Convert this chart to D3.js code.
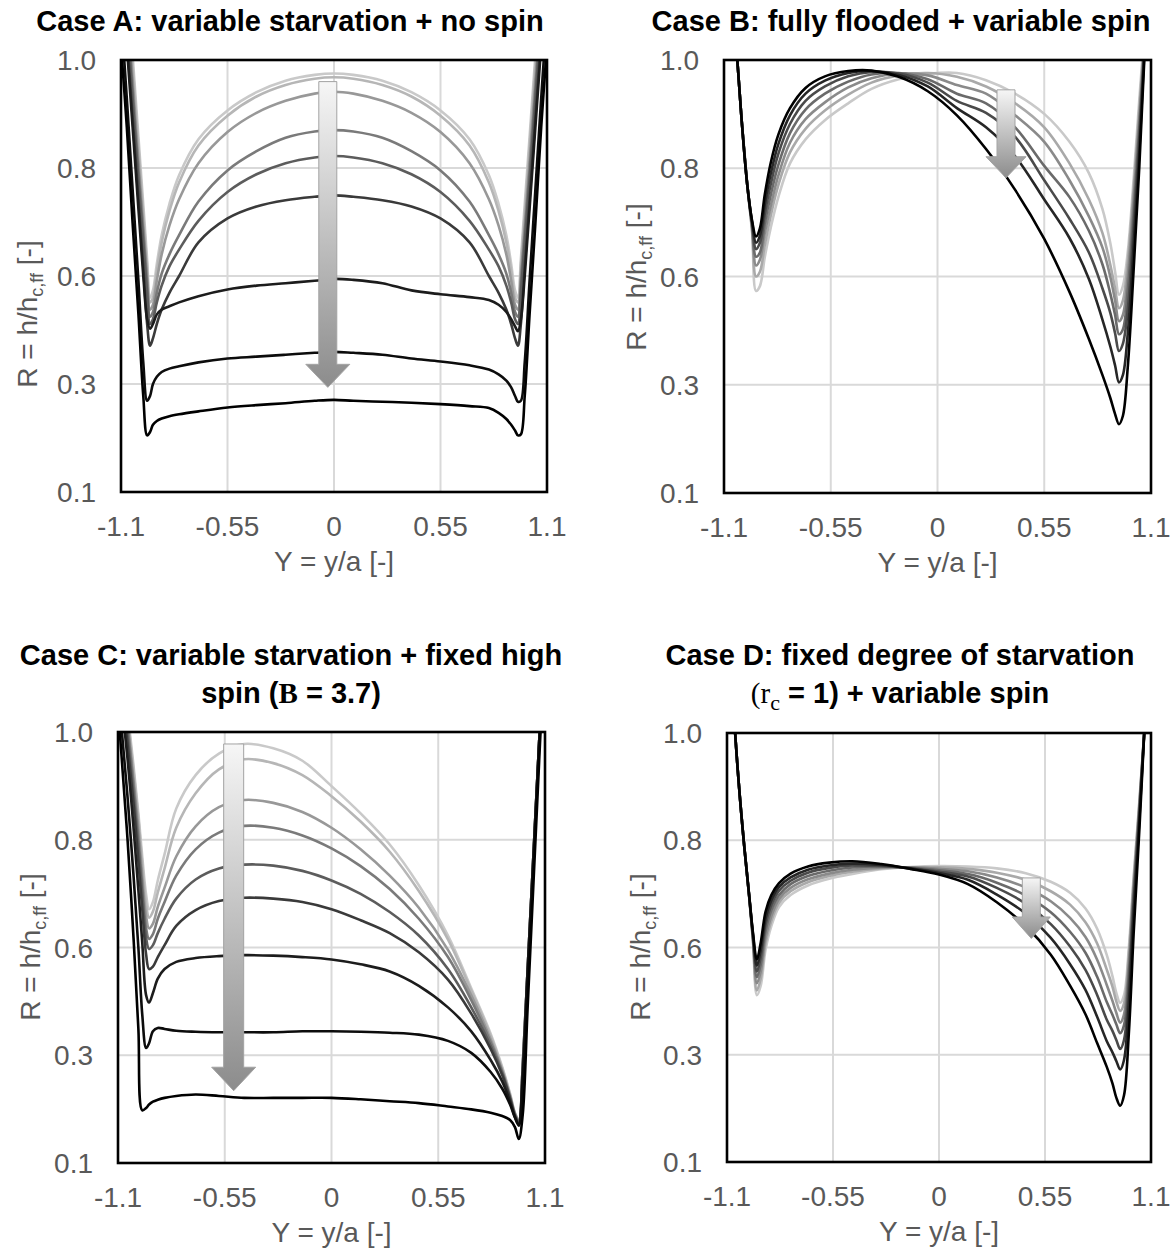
<!DOCTYPE html>
<html><head><meta charset="utf-8">
<script src="https://cdn.jsdelivr.net/npm/d3@7"></script>
<style>body{margin:0;background:#fff} svg{display:block}</style>
</head><body>
<svg id="chart" width="1174" height="1258"></svg>
<script>
// ---------- axis ticks ----------
const xTicks = [-1.1, -0.55, 0, 0.55, 1.1];
const xTickLabels = ["-1.1", "-0.55", "0", "0.55", "1.1"];
const yTicks = [0.1, 0.325, 0.55, 0.775, 1.0];
const yTickLabels = ["0.1", "0.3", "0.6", "0.8", "1.0"];

// ---------- Case A: variable starvation + no spin (lightest -> darkest) ----------
const xA = [-1.1,-1.07,-1.04,-1.01,-0.985,-0.965,-0.95,-0.935,-0.915,-0.89,-0.85,-0.8,-0.7,-0.55,-0.4,-0.25,-0.1,0,0.1,0.25,0.4,0.55,0.7,0.8,0.85,0.89,0.915,0.935,0.95,0.965,0.985,1.01,1.04,1.07,1.1];
const caseA = [
 [1.35,1.18,1.01,0.84,0.70,0.585,0.505,0.52,0.575,0.635,0.70,0.76,0.835,0.895,0.933,0.957,0.969,0.972,0.969,0.957,0.933,0.895,0.835,0.76,0.70,0.635,0.575,0.52,0.505,0.585,0.70,0.84,1.01,1.18,1.35],
 [1.33,1.16,0.99,0.82,0.68,0.57,0.495,0.505,0.56,0.62,0.685,0.745,0.822,0.884,0.924,0.948,0.961,0.964,0.961,0.948,0.924,0.884,0.822,0.745,0.685,0.62,0.56,0.505,0.495,0.57,0.68,0.82,0.99,1.16,1.33],
 [1.30,1.13,0.96,0.79,0.655,0.55,0.48,0.49,0.54,0.595,0.655,0.71,0.785,0.85,0.89,0.915,0.93,0.934,0.93,0.915,0.89,0.85,0.785,0.71,0.655,0.595,0.54,0.49,0.48,0.55,0.655,0.79,0.96,1.13,1.30],
 [1.28,1.11,0.94,0.77,0.64,0.535,0.465,0.475,0.515,0.555,0.595,0.635,0.705,0.77,0.81,0.838,0.851,0.854,0.851,0.838,0.81,0.77,0.705,0.635,0.595,0.555,0.515,0.475,0.465,0.535,0.64,0.77,0.94,1.11,1.28],
 [1.26,1.09,0.92,0.75,0.62,0.515,0.45,0.46,0.495,0.53,0.57,0.605,0.665,0.725,0.762,0.785,0.797,0.80,0.797,0.785,0.762,0.725,0.665,0.605,0.57,0.53,0.495,0.46,0.45,0.515,0.62,0.75,0.92,1.09,1.26],
 [1.22,1.05,0.88,0.71,0.57,0.45,0.405,0.42,0.45,0.48,0.515,0.55,0.62,0.67,0.695,0.708,0.715,0.718,0.715,0.708,0.695,0.67,0.62,0.55,0.515,0.48,0.45,0.42,0.405,0.45,0.57,0.71,0.88,1.05,1.22],
 [1.2,1.03,0.86,0.69,0.55,0.46,0.44,0.45,0.47,0.48,0.487,0.495,0.508,0.522,0.53,0.535,0.54,0.544,0.542,0.535,0.52,0.512,0.506,0.50,0.49,0.475,0.46,0.445,0.435,0.46,0.55,0.69,0.86,1.03,1.2],
 [1.1,0.92,0.73,0.54,0.37,0.29,0.30,0.325,0.34,0.35,0.357,0.362,0.37,0.378,0.382,0.386,0.39,0.392,0.39,0.386,0.378,0.372,0.364,0.355,0.345,0.332,0.318,0.30,0.288,0.29,0.37,0.54,0.73,0.92,1.1],
 [1.03,0.86,0.66,0.47,0.30,0.218,0.225,0.24,0.248,0.253,0.258,0.262,0.268,0.276,0.281,0.285,0.29,0.292,0.29,0.288,0.286,0.283,0.279,0.275,0.265,0.252,0.24,0.228,0.218,0.22,0.30,0.47,0.66,0.86,1.03]
];

// ---------- Case B: fully flooded + variable spin ----------
const xB = [-1.1,-1.07,-1.04,-1.01,-0.98,-0.955,-0.935,-0.915,-0.89,-0.86,-0.82,-0.76,-0.68,-0.58,-0.46,-0.34,-0.2,-0.05,0.1,0.25,0.4,0.55,0.68,0.78,0.85,0.89,0.915,0.935,0.955,0.98,1.01,1.04,1.07,1.1];
const caseB = [
 [1.4,1.22,1.05,0.88,0.74,0.64,0.52,0.53,0.59,0.65,0.715,0.785,0.835,0.875,0.91,0.94,0.96,0.971,0.973,0.958,0.93,0.888,0.83,0.765,0.69,0.62,0.56,0.512,0.53,0.6,0.75,0.92,1.08,1.25],
 [1.4,1.22,1.05,0.88,0.74,0.645,0.55,0.56,0.615,0.675,0.74,0.808,0.857,0.895,0.928,0.953,0.968,0.973,0.965,0.945,0.91,0.86,0.785,0.71,0.64,0.575,0.525,0.484,0.50,0.58,0.73,0.9,1.07,1.25],
 [1.4,1.22,1.05,0.88,0.74,0.65,0.573,0.585,0.64,0.695,0.76,0.828,0.877,0.912,0.943,0.962,0.972,0.968,0.948,0.93,0.885,0.83,0.75,0.675,0.61,0.55,0.50,0.457,0.47,0.55,0.71,0.88,1.06,1.25],
 [1.4,1.22,1.05,0.88,0.74,0.655,0.591,0.60,0.66,0.718,0.782,0.848,0.897,0.93,0.955,0.970,0.973,0.96,0.93,0.91,0.86,0.78,0.715,0.645,0.575,0.515,0.47,0.43,0.44,0.52,0.68,0.86,1.06,1.25],
 [1.4,1.22,1.05,0.88,0.74,0.66,0.607,0.62,0.68,0.74,0.805,0.867,0.915,0.945,0.966,0.975,0.972,0.953,0.915,0.89,0.84,0.75,0.67,0.60,0.525,0.475,0.432,0.395,0.41,0.48,0.65,0.84,1.05,1.25],
 [1.4,1.22,1.05,0.88,0.74,0.663,0.62,0.635,0.70,0.762,0.825,0.885,0.93,0.957,0.973,0.977,0.969,0.945,0.90,0.86,0.80,0.71,0.63,0.545,0.46,0.405,0.365,0.33,0.345,0.43,0.61,0.81,1.05,1.25],
 [1.4,1.22,1.05,0.88,0.74,0.665,0.633,0.65,0.72,0.785,0.845,0.90,0.942,0.966,0.977,0.978,0.965,0.935,0.885,0.815,0.73,0.628,0.518,0.42,0.345,0.298,0.264,0.243,0.26,0.36,0.56,0.78,1.04,1.25]
];

// ---------- Case C: variable starvation + fixed high spin ----------
const xC = [-1.1,-1.08,-1.05,-1.02,-0.995,-0.975,-0.955,-0.94,-0.92,-0.895,-0.86,-0.8,-0.7,-0.58,-0.45,-0.3,-0.15,0,0.15,0.3,0.45,0.6,0.72,0.82,0.88,0.92,0.945,0.965,0.985,1.01,1.04,1.07,1.1];
const caseC = [
 [1.25,1.16,1.04,0.93,0.83,0.74,0.66,0.63,0.645,0.69,0.745,0.84,0.91,0.955,0.975,0.966,0.94,0.887,0.83,0.765,0.68,0.575,0.465,0.37,0.3,0.245,0.205,0.19,0.30,0.50,0.74,0.98,1.2],
 [1.24,1.15,1.03,0.92,0.82,0.725,0.64,0.612,0.625,0.665,0.715,0.80,0.872,0.922,0.943,0.935,0.91,0.866,0.813,0.75,0.668,0.567,0.46,0.365,0.297,0.243,0.204,0.19,0.30,0.50,0.74,0.98,1.2],
 [1.23,1.14,1.02,0.9,0.8,0.7,0.615,0.59,0.6,0.635,0.675,0.74,0.803,0.843,0.858,0.852,0.833,0.80,0.755,0.70,0.633,0.545,0.45,0.358,0.293,0.24,0.203,0.188,0.30,0.50,0.74,0.98,1.2],
 [1.22,1.13,1.01,0.89,0.78,0.68,0.59,0.568,0.578,0.61,0.645,0.70,0.755,0.79,0.804,0.80,0.784,0.757,0.72,0.672,0.61,0.53,0.44,0.352,0.29,0.238,0.202,0.188,0.30,0.50,0.74,0.98,1.2],
 [1.2,1.11,0.99,0.87,0.76,0.66,0.57,0.547,0.555,0.58,0.61,0.652,0.692,0.715,0.723,0.721,0.71,0.69,0.662,0.624,0.575,0.505,0.425,0.345,0.287,0.236,0.20,0.186,0.30,0.50,0.74,0.98,1.2],
 [1.18,1.09,0.97,0.85,0.73,0.63,0.535,0.505,0.51,0.53,0.555,0.595,0.628,0.647,0.654,0.652,0.645,0.63,0.607,0.58,0.54,0.483,0.412,0.338,0.283,0.234,0.198,0.182,0.29,0.50,0.74,0.98,1.2],
 [1.15,1.06,0.94,0.8,0.67,0.56,0.45,0.435,0.455,0.485,0.505,0.52,0.528,0.532,0.534,0.533,0.53,0.525,0.515,0.50,0.47,0.425,0.375,0.315,0.27,0.228,0.196,0.18,0.28,0.49,0.73,0.98,1.2],
 [1.1,1.0,0.86,0.70,0.55,0.41,0.34,0.35,0.375,0.382,0.38,0.376,0.374,0.373,0.373,0.373,0.375,0.375,0.374,0.372,0.368,0.355,0.33,0.29,0.255,0.222,0.195,0.178,0.27,0.48,0.72,0.97,1.2],
 [1.05,0.94,0.77,0.57,0.38,0.21,0.215,0.222,0.228,0.232,0.236,0.24,0.243,0.24,0.236,0.236,0.236,0.236,0.233,0.229,0.225,0.218,0.212,0.205,0.198,0.19,0.175,0.15,0.2,0.42,0.68,0.94,1.2]
];

// ---------- Case D: fixed starvation (rc = 1) + variable spin ----------
const xD = [-1.1,-1.07,-1.04,-1.01,-0.985,-0.965,-0.945,-0.925,-0.9,-0.87,-0.83,-0.77,-0.68,-0.57,-0.45,-0.3,-0.15,0,0.15,0.3,0.45,0.58,0.68,0.76,0.82,0.87,0.9,0.92,0.94,0.96,0.985,1.01,1.04,1.07,1.1];
const caseD = [
 [1.35,1.08,0.9,0.76,0.655,0.56,0.45,0.47,0.545,0.595,0.635,0.66,0.68,0.694,0.704,0.714,0.719,0.721,0.72,0.716,0.706,0.688,0.665,0.632,0.59,0.535,0.49,0.455,0.434,0.45,0.55,0.70,0.86,1.03,1.2],
 [1.35,1.08,0.9,0.76,0.657,0.563,0.46,0.485,0.559,0.606,0.644,0.668,0.687,0.70,0.709,0.716,0.718,0.718,0.715,0.707,0.692,0.668,0.64,0.603,0.559,0.504,0.468,0.437,0.417,0.433,0.536,0.69,0.855,1.03,1.21],
 [1.35,1.08,0.9,0.76,0.657,0.567,0.475,0.50,0.571,0.616,0.652,0.675,0.693,0.705,0.713,0.718,0.718,0.715,0.71,0.697,0.676,0.647,0.612,0.572,0.525,0.472,0.438,0.413,0.392,0.41,0.516,0.677,0.849,1.032,1.22],
 [1.35,1.08,0.9,0.76,0.658,0.57,0.488,0.515,0.585,0.628,0.66,0.683,0.70,0.711,0.718,0.72,0.717,0.712,0.704,0.686,0.659,0.624,0.583,0.539,0.489,0.436,0.409,0.389,0.37,0.387,0.496,0.664,0.842,1.033,1.23],
 [1.35,1.08,0.9,0.76,0.658,0.573,0.50,0.53,0.599,0.639,0.669,0.69,0.707,0.717,0.722,0.721,0.716,0.709,0.699,0.675,0.642,0.599,0.552,0.503,0.451,0.399,0.375,0.356,0.337,0.356,0.469,0.646,0.833,1.035,1.25],
 [1.35,1.08,0.9,0.76,0.659,0.577,0.512,0.545,0.611,0.649,0.677,0.697,0.713,0.722,0.726,0.723,0.716,0.706,0.692,0.661,0.621,0.57,0.515,0.461,0.405,0.354,0.33,0.312,0.294,0.314,0.433,0.622,0.821,1.037,1.27],
 [1.35,1.08,0.9,0.76,0.66,0.58,0.525,0.56,0.625,0.66,0.685,0.705,0.72,0.728,0.731,0.725,0.715,0.703,0.683,0.645,0.595,0.535,0.47,0.41,0.35,0.30,0.265,0.235,0.218,0.24,0.37,0.58,0.80,1.04,1.3]
];

// ---------- styling (not data) ----------
const grays9 = ["#c9c9c9","#b6b6b6","#989898","#7a7a7a","#5c5c5c","#3a3a3a","#1c1c1c","#0c0c0c","#000000"];
const grays7 = ["#c9c9c9","#a9a9a9","#8a8a8a","#6a6a6a","#4a4a4a","#262626","#000000"];
const SANS = "'Liberation Sans', Arial, Helvetica, sans-serif";
const SERIF = "'Liberation Serif', 'DejaVu Serif', serif";

const panels = [
 { xs:xA, series:caseA, colors:grays9, left:121, top:60, w:426, h:432, yTitleOff:94, yTitleCY:314,
   titleCX:290, titleLines:[[{t:"Case A: variable starvation + no spin"}]], titleBase:[31],
   arrow:{x:-0.032, top:0.955, head:0.366, tip:0.318, sw:9, hw:22} },
 { xs:xB, series:caseB, colors:grays7, left:724, top:60, w:427, h:433, yTitleOff:88, yTitleCY:277,
   titleCX:901, titleLines:[[{t:"Case B: fully flooded + variable spin"}]], titleBase:[31],
   arrow:{x:0.353, top:0.938, head:0.799, tip:0.755, sw:9, hw:20} },
 { xs:xC, series:caseC, colors:grays9, left:118, top:732, w:427, h:431, yTitleOff:88, yTitleCY:947,
   titleCX:291, titleLines:[[{t:"Case C: variable starvation + fixed high"}],
                            [{t:"spin ("},{t:"B",serif:true},{t:" = 3.7)"}]], titleBase:[665,703],
   arrow:{x:-0.504, top:0.975, head:0.30, tip:0.251, sw:10, hw:22} },
 { xs:xD, series:caseD, colors:grays7, left:727, top:733, w:424, h:429, yTitleOff:87, yTitleCY:947,
   titleCX:900, titleLines:[[{t:"Case D: fixed degree of starvation"}],
                            [{t:"(r",serif:true,normal:true},{t:"c",serif:true,normal:true,sub:true},{t:" = 1) + variable spin"}]], titleBase:[665,703],
   arrow:{x:0.479, top:0.696, head:0.614, tip:0.569, sw:9, hw:19} }
];

const svg = d3.select("#chart");
const defs = svg.append("defs");
const grad = defs.append("linearGradient").attr("id","arrowGrad")
  .attr("x1",0).attr("y1",0).attr("x2",0).attr("y2",1);
grad.append("stop").attr("offset","0%").attr("stop-color","#f6f6f6");
grad.append("stop").attr("offset","100%").attr("stop-color","#8c8c8c");

panels.forEach((p, pi) => {
  const x = d3.scaleLinear().domain([-1.1, 1.1]).range([p.left, p.left + p.w]);
  const y = d3.scaleLinear().domain([0.1, 1.0]).range([p.top + p.h, p.top]);
  const g = svg.append("g");

  // gridlines
  g.selectAll(".vg").data(xTicks.slice(1, -1)).enter().append("line")
    .attr("x1", d => x(d)).attr("x2", d => x(d)).attr("y1", p.top).attr("y2", p.top + p.h)
    .attr("stroke", "#d9d9d9").attr("stroke-width", 2);
  g.selectAll(".hg").data(yTicks.slice(1, -1)).enter().append("line")
    .attr("y1", d => y(d)).attr("y2", d => y(d)).attr("x1", p.left).attr("x2", p.left + p.w)
    .attr("stroke", "#d9d9d9").attr("stroke-width", 2);

  // clip
  const cid = "clip" + pi;
  defs.append("clipPath").attr("id", cid).append("rect")
    .attr("x", p.left).attr("y", p.top).attr("width", p.w).attr("height", p.h);

  const line = d3.line().x(d => x(d[0])).y(d => y(d[1])).curve(d3.curveCatmullRom.alpha(0.5));
  const cg = g.append("g").attr("clip-path", `url(#${cid})`);
  p.series.forEach((vals, si) => {
    const pts = p.xs.map((xv, i) => [xv, vals[i]]);
    cg.append("path").attr("d", line(pts)).attr("fill", "none")
      .attr("stroke", p.colors[si]).attr("stroke-width", 2.6)
      .attr("stroke-linejoin", "round").attr("stroke-linecap", "round");
  });

  // arrow
  const a = p.arrow, cx = x(a.x), yt = y(a.top), yh = y(a.head), yp = y(a.tip);
  g.append("path")
    .attr("d", `M${cx - a.sw},${yt} L${cx + a.sw},${yt} L${cx + a.sw},${yh} L${cx + a.hw},${yh} L${cx},${yp} L${cx - a.hw},${yh} L${cx - a.sw},${yh} Z`)
    .attr("fill", "url(#arrowGrad)").attr("stroke", "#a3a3a3").attr("stroke-width", 1);

  // frame
  g.append("rect").attr("x", p.left).attr("y", p.top).attr("width", p.w).attr("height", p.h)
    .attr("fill", "none").attr("stroke", "#000").attr("stroke-width", 2.6);

  // tick labels
  g.selectAll(".xt").data(xTicks).enter().append("text")
    .attr("x", d => x(d)).attr("y", p.top + p.h + 44)
    .attr("text-anchor", "middle").attr("font-family", SANS).attr("font-size", 28).attr("fill", "#595959")
    .text((d, i) => xTickLabels[i]);
  g.selectAll(".yt").data(yTicks).enter().append("text")
    .attr("x", p.left - 25).attr("y", d => y(d)).attr("dy", "0.36em")
    .attr("text-anchor", "end").attr("font-family", SANS).attr("font-size", 28).attr("fill", "#595959")
    .text((d, i) => yTickLabels[i]);

  // axis titles
  g.append("text").attr("x", p.left + p.w / 2).attr("y", p.top + p.h + 79)
    .attr("text-anchor", "middle").attr("font-family", SANS).attr("font-size", 28).attr("fill", "#595959")
    .text("Y = y/a [-]");
  const yt2 = g.append("text")
    .attr("transform", `translate(${p.left - p.yTitleOff + 10},${p.yTitleCY}) rotate(-90)`)
    .attr("text-anchor", "middle").attr("font-family", SANS).attr("font-size", 28).attr("fill", "#595959");
  yt2.append("tspan").text("R = h/h");
  yt2.append("tspan").attr("font-size", 18).attr("dy", 6).text("c,ff");
  yt2.append("tspan").attr("dy", -6).text(" [-]");

  // title
  p.titleLines.forEach((segs, li) => {
    const t = g.append("text").attr("x", p.titleCX).attr("y", p.titleBase[li])
      .attr("text-anchor", "middle").attr("font-family", SANS).attr("font-size", 29)
      .attr("font-weight", "bold").attr("fill", "#000");
    let shifted = false;
    segs.forEach(s => {
      const ts = t.append("tspan").text(s.t);
      if (s.serif) ts.attr("font-family", SERIF);
      if (s.normal) ts.attr("font-weight", "normal");
      if (s.sub) { ts.attr("font-size", 22).attr("dy", 7); shifted = true; }
      else if (shifted) { ts.attr("dy", -7); shifted = false; }
    });
  });
});
</script>
</body></html>
